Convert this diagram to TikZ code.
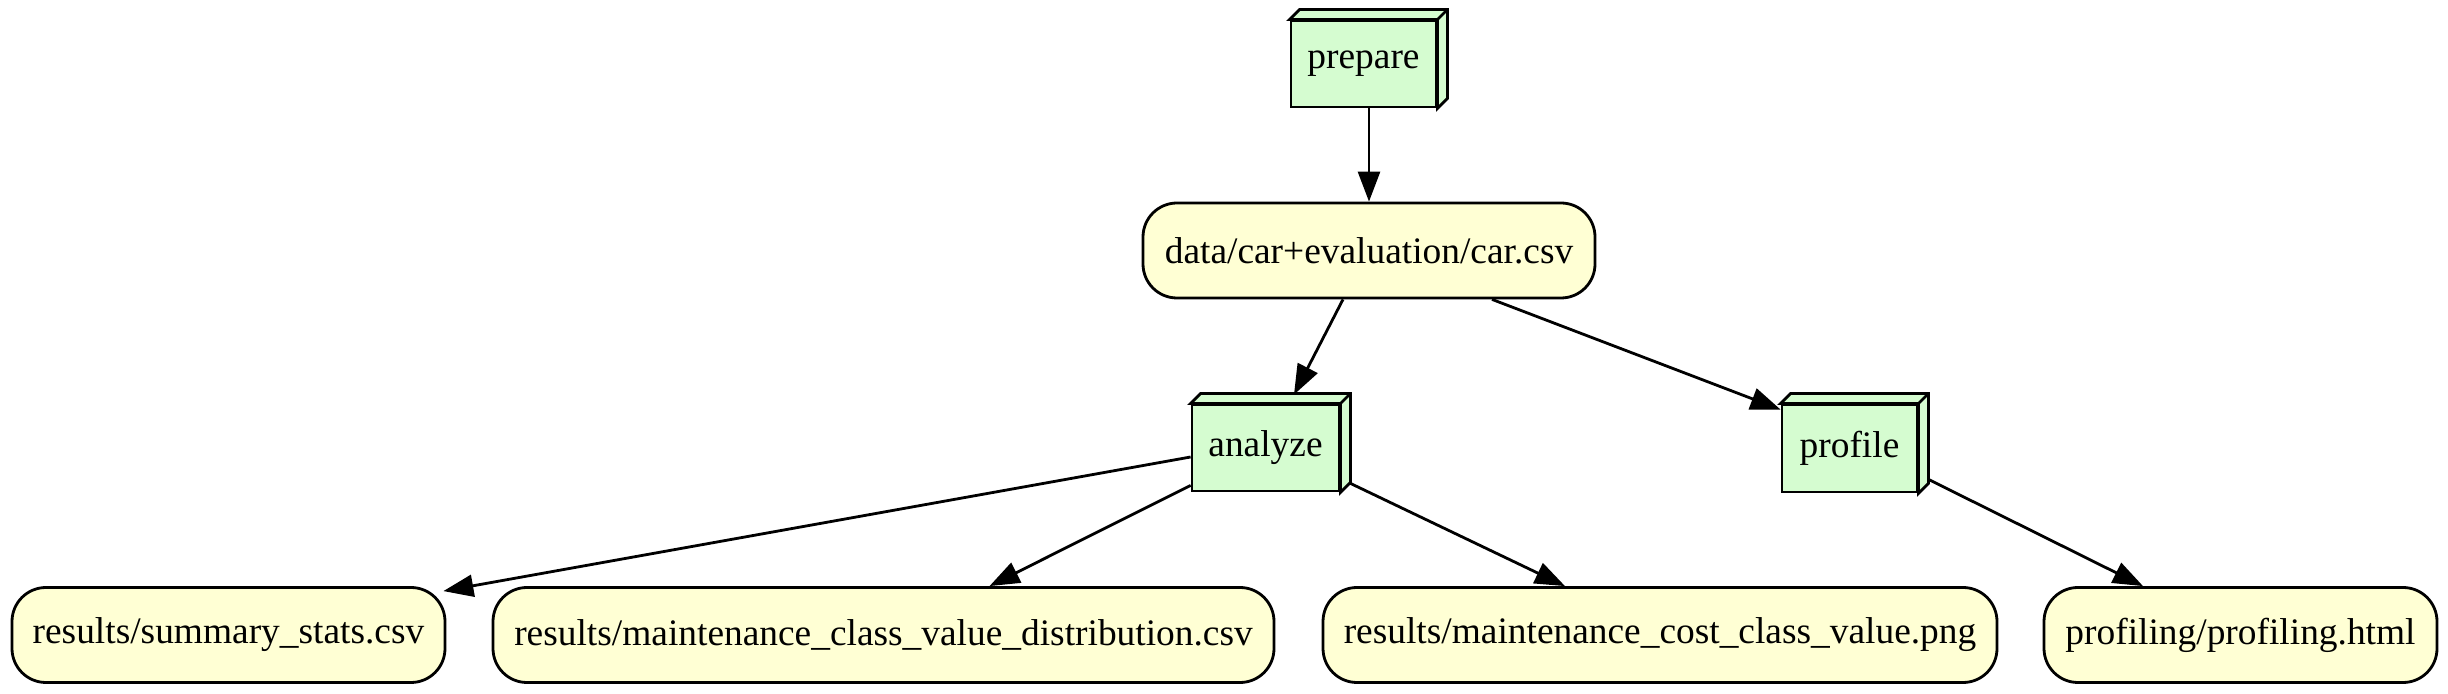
\documentclass[tikz,border=0pt]{standalone}
\usepackage{fontspec}
\setmainfont{Liberation Serif}
\usetikzlibrary{arrows.meta,calc}
\definecolor{boxgreen}{RGB}{213,252,208}
\definecolor{fileyellow}{RGB}{255,255,212}
\begin{document}
\begin{tikzpicture}[x=0.5pt,y=-0.5pt,
  every node/.style={font=\fontsize{18.7pt}{22pt}\selectfont, inner sep=0pt},
  stagebox/.style={draw, line width=1.4pt, fill=boxgreen, rectangle},
  filebox/.style={draw, line width=1.4pt, fill=fileyellow, rectangle, rounded corners=17pt, minimum height=47.5pt},
  edge/.style={line width=1.4pt, -{Triangle[length=15pt,width=11pt]}}]
\useasboundingbox (0,0) rectangle (2448,694);

\node[stagebox, minimum width=72.5pt, minimum height=43pt] (prepare) at (1363.5,64) {prepare};
\node[filebox, minimum width=226pt] (data) at (1369,250.5) {data/car+evaluation/car.csv};
\node[stagebox, minimum width=73.5pt, minimum height=43pt] (analyze) at (1265.5,448) {analyze};
\node[stagebox, minimum width=67.5pt, minimum height=43.5pt] (profile) at (1849.5,448.5) {profile};
\node[filebox, minimum width=216.5pt] (summary) at (228.5,635) {results/summary\_stats.csv};
\node[filebox, minimum width=390.5pt] (dist) at (883.5,635) {results/maintenance\_class\_value\_distribution.csv};
\node[filebox, minimum width=337pt] (cost) at (1660,635) {results/maintenance\_cost\_class\_value.png};
\node[filebox, minimum width=196.5pt] (profiling) at (2240.5,635) {profiling/profiling.html};

\foreach \n in {prepare,analyze,profile}{
  \draw[line width=1.4pt, fill=boxgreen, line join=miter]
    (\n.north west) -- ++(10,-10) -- ([shift={(10,-10)}]\n.north east)
    -- ([shift={(10,-10)}]\n.south east) -- (\n.south east) -- (\n.north east) -- cycle;
  \draw[line width=1.4pt] (\n.north east) -- ++(10,-10);
}

\draw[edge] (prepare.south -| data.north) -- (data.north);
\draw[edge] ($(data.south)+(-26,0)$) -- ($(analyze.north)+(28.5,-9)$);
\draw[edge] ($(data.south)+(123,0)$) -- ($(profile.north west)+(0,6)$);
\draw[edge] ($(analyze.west)+(0,9)$) -- ($(summary.north east)+(-3,5)$);
\draw[edge] ($(analyze.south west)+(0,-7)$) -- ($(dist.north)+(106,0)$);
\draw[edge] ($(analyze.south east)+(10,-9)$) -- ($(cost.north)+(-95,0)$);
\draw[edge] ($(profile.south east)+(10,-14)$) -- ($(profiling.north)+(-97.5,0)$);
\end{tikzpicture}
\end{document}
